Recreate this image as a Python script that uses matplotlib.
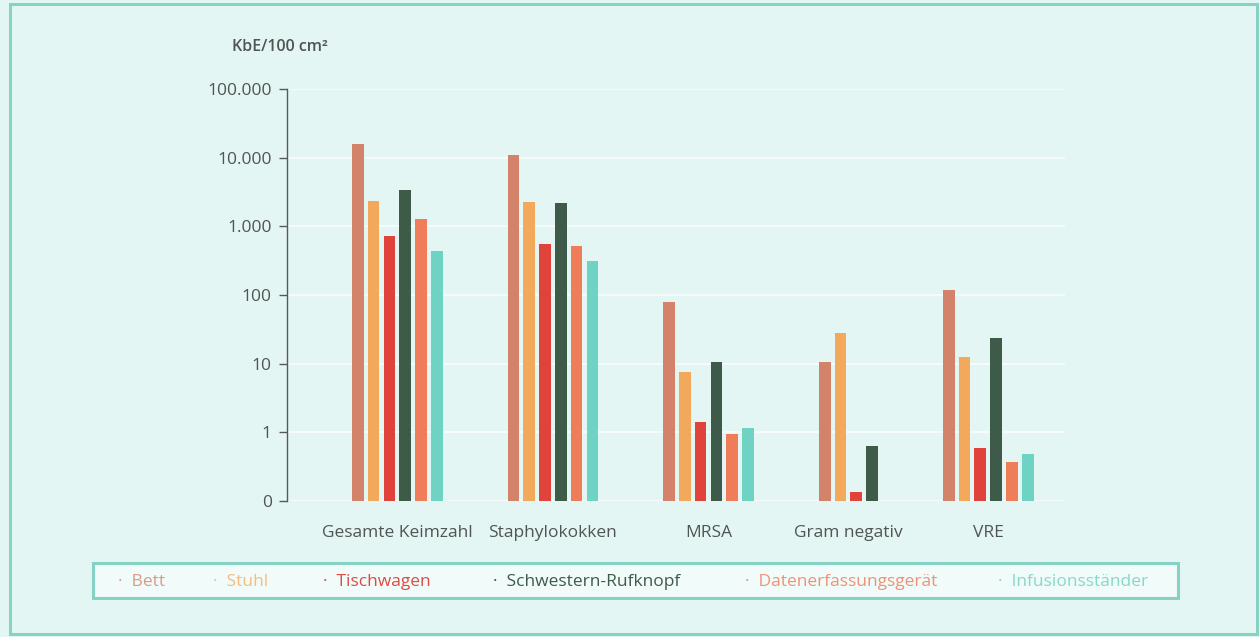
import numpy as np
import matplotlib.pyplot as plt
from matplotlib.patches import Rectangle
from matplotlib.ticker import FixedLocator, NullLocator

# Keimbelastung je Oberfläche (KbE/100 cm²), logarithmische Darstellung
categories = ["Gesamte Keimzahl", "Staphylokokken", "MRSA", "Gram negativ", "VRE"]
series = ["Bett", "Stuhl", "Tischwagen", "Schwestern-Rufknopf",
          "Datenerfassungsgerät", "Infusionsständer"]
colors = ["#d4836b", "#f2a95c", "#e0433b", "#3e5b4a", "#ef7d5a", "#6fd3c3"]
legend_colors = ["#d99a88", "#f4bd80", "#dd4b45", "#3e5b4a", "#f09275", "#86d8cb"]

bett = [16000, 10800, 80, 10.7, 118]
stuhl = [2300, 2240, 7.6, 28, 12.4]
tischwagen = [720, 560, 1.43, 0.137, 0.6]
schwestern = [3400, 2220, 10.7, 0.64, 24]
datenerfassung = [1300, 520, 0.95, None, 0.37]
infusion = [430, 316, 1.14, None, 0.49]
values = [bett, stuhl, tischwagen, schwestern, datenerfassung, infusion]

ytick_values = [0.1, 1, 10, 100, 1000, 10000, 100000]
ytick_labels = ["0", "1", "10", "100", "1.000", "10.000", "100.000"]

BG = "#e4f6f3"
TEAL = "#86d3c5"
TEXT = "#4f5552"

plt.rcParams["font.family"] = ["Open Sans", "DejaVu Sans"]

fig = plt.figure(figsize=(12.6, 6.37), dpi=100, facecolor=BG)
ax = fig.add_axes([0.2278, 0.2135, 0.8452 - 0.2278, 0.8603 - 0.2135])
ax.set_facecolor(BG)

bar_w = 0.74
group_gap = 3.85
start = 0.0
centers = []
for gi, cat in enumerate(categories):
    xs = []
    pos = start
    for si in range(len(series)):
        v = values[si][gi]
        if v is None:
            continue
        ax.bar(pos, v - 0.1, bottom=0.1, width=bar_w, color=colors[si],
               edgecolor="none", zorder=3)
        xs.append(pos)
        pos += 1
    centers.append((xs[0] + xs[-1]) / 2)
    start = pos + group_gap

ax.set_yscale("log")
ax.set_ylim(0.1, 100000)
ax.set_xlim(-4.48, 44.76)
ax.yaxis.set_major_locator(FixedLocator(ytick_values))
ax.yaxis.set_minor_locator(NullLocator())
ax.set_yticklabels(ytick_labels)
ax.set_xticks(centers)
ax.set_xticklabels(categories)

for y in ytick_values:
    ax.axhline(y, color="white", lw=1.2, alpha=0.8, zorder=1)

for side in ["top", "right", "bottom"]:
    ax.spines[side].set_visible(False)
ax.spines["left"].set_color("#55595a")
ax.spines["left"].set_linewidth(1.0)
ax.tick_params(axis="y", direction="out", length=6, width=1.0, color="#55595a",
               labelsize=12.5, labelcolor=TEXT, pad=5)
ax.tick_params(axis="x", length=0, labelsize=12.5, labelcolor=TEXT, pad=17)

fig.text(232 / 1260, 1 - 47 / 637, "KbE/100 cm²", fontsize=11.5, fontweight="semibold",
         color=TEXT, va="center", ha="left")

# Legende als Kasten mit farbigen Einträgen
fig.patches.append(Rectangle((93 / 1260, 1 - 598 / 637), (1178 - 93) / 1260,
                             35 / 637, transform=fig.transFigure,
                             facecolor="#f1fbf9", edgecolor=TEAL, lw=2.2))
legend_x = [118, 213, 323, 493, 745, 998]
for name, c, lx in zip(series, legend_colors, legend_x):
    fig.text(lx / 1260, 1 - 582 / 637, "·  " + name, fontsize=12.5, color=c,
             va="center", ha="left")

# Rahmen um die Abbildung
fig.patches.append(Rectangle((10 / 1260, 3 / 637), (1257 - 10) / 1260,
                             (633 - 3) / 637, transform=fig.transFigure,
                             facecolor="none", edgecolor=TEAL, lw=2.2))

fig.savefig("out.png", dpi=100, facecolor=BG)
